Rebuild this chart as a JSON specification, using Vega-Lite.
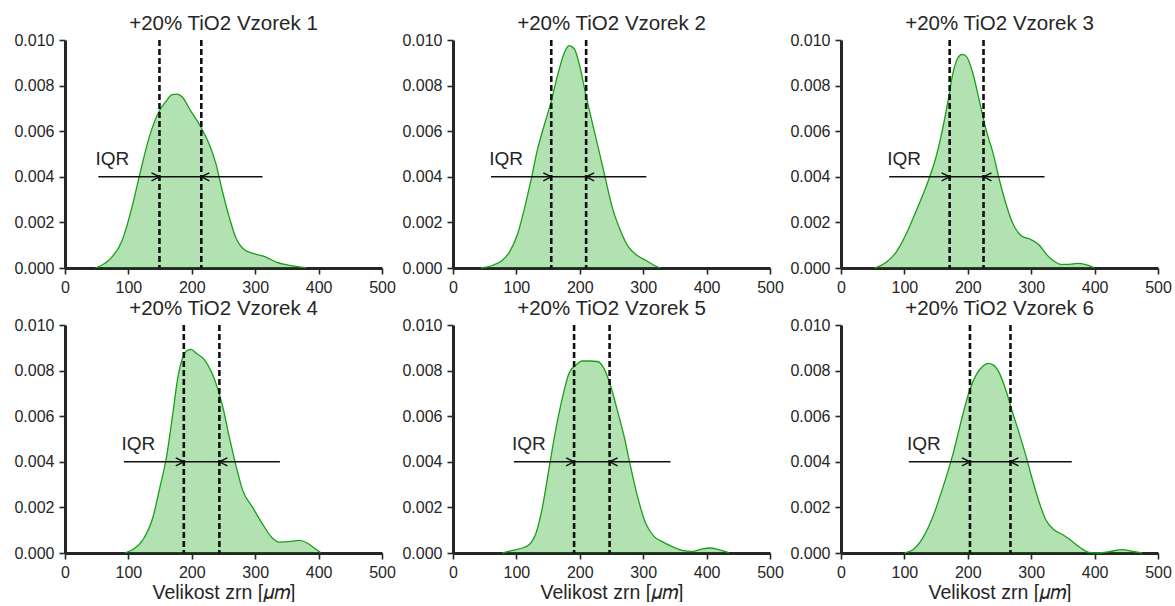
{
  "$schema": "https://vega.github.io/schema/vega-lite/v6.json",
  "padding": {"left": 13, "top": 13, "right": 5, "bottom": 0},
  "background": "white",
  "config": {
    "view": {"stroke": null},
    "axis": {"domainColor": "#262626", "domainWidth": 3, "tickColor": "#262626", "tickWidth": 1.6, "tickSize": 6, "labelFont": "Liberation Sans", "labelFontSize": 16, "labelColor": "#262626", "labelPadding": 5, "titleFont": "Liberation Sans", "titleFontSize": 19.5, "titleFontWeight": "normal", "titleColor": "#262626", "titlePadding": 3, "grid": false, "zindex": 1, "labelFlush": false},
    "title": {"font": "Liberation Sans", "fontSize": 20.5, "fontWeight": "normal", "color": "#262626", "offset": -2, "frame": "group"}
  },
  "datasets": {
    "kde": [
      {"s":1,"x":48,"y":0},{"s":1,"x":58,"y":0.00012},{"s":1,"x":69,"y":0.00034},{"s":1,"x":90,"y":0.0012},{"s":1,"x":106,"y":0.0027},{"s":1,"x":117,"y":0.004},{"s":1,"x":133,"y":0.00575},{"s":1,"x":148,"y":0.00685},{"s":1,"x":159,"y":0.0073},{"s":1,"x":169,"y":0.0076},{"s":1,"x":177,"y":0.00763},{"s":1,"x":185,"y":0.0075},{"s":1,"x":198,"y":0.0069},{"s":1,"x":214,"y":0.0062},{"s":1,"x":227,"y":0.00546},{"s":1,"x":238,"y":0.00458},{"s":1,"x":248,"y":0.0034},{"s":1,"x":259,"y":0.00224},{"s":1,"x":269,"y":0.00136},{"s":1,"x":283,"y":0.0008},{"s":1,"x":298,"y":0.00063},{"s":1,"x":317,"y":0.00048},{"s":1,"x":333,"y":0.00026},{"s":1,"x":354,"y":0.00012},{"s":1,"x":380,"y":0.00002},
      {"s":2,"x":44,"y":0},{"s":2,"x":63,"y":0.00012},{"s":2,"x":78,"y":0.00034},{"s":2,"x":89,"y":0.0007},{"s":2,"x":102,"y":0.0015},{"s":2,"x":112,"y":0.00253},{"s":2,"x":123,"y":0.00385},{"s":2,"x":133,"y":0.00517},{"s":2,"x":144,"y":0.00627},{"s":2,"x":154,"y":0.00722},{"s":2,"x":165,"y":0.00846},{"s":2,"x":175,"y":0.0094},{"s":2,"x":183,"y":0.00975},{"s":2,"x":191,"y":0.00963},{"s":2,"x":199,"y":0.00897},{"s":2,"x":209,"y":0.00766},{"s":2,"x":220,"y":0.00634},{"s":2,"x":230,"y":0.00517},{"s":2,"x":241,"y":0.00385},{"s":2,"x":251,"y":0.00268},{"s":2,"x":264,"y":0.00165},{"s":2,"x":277,"y":0.00092},{"s":2,"x":290,"y":0.00056},{"s":2,"x":304,"y":0.00034},{"s":2,"x":317,"y":0.00012},{"s":2,"x":327,"y":0},
      {"s":3,"x":53,"y":0},{"s":3,"x":72,"y":0.00026},{"s":3,"x":87,"y":0.0007},{"s":3,"x":103,"y":0.0015},{"s":3,"x":119,"y":0.00253},{"s":3,"x":135,"y":0.00363},{"s":3,"x":150,"y":0.00488},{"s":3,"x":161,"y":0.0062},{"s":3,"x":169,"y":0.00736},{"s":3,"x":177,"y":0.0086},{"s":3,"x":184,"y":0.0092},{"s":3,"x":191,"y":0.00937},{"s":3,"x":198,"y":0.00927},{"s":3,"x":208,"y":0.00854},{"s":3,"x":218,"y":0.00736},{"s":3,"x":229,"y":0.00605},{"s":3,"x":240,"y":0.00502},{"s":3,"x":250,"y":0.00385},{"s":3,"x":260,"y":0.00283},{"s":3,"x":271,"y":0.00195},{"s":3,"x":284,"y":0.00143},{"s":3,"x":300,"y":0.00124},{"s":3,"x":313,"y":0.001},{"s":3,"x":323,"y":0.00063},{"s":3,"x":334,"y":0.00034},{"s":3,"x":347,"y":0.00016},{"s":3,"x":360,"y":0.00016},{"s":3,"x":373,"y":0.0002},{"s":3,"x":386,"y":0.00015},{"s":3,"x":399,"y":0.00002},
      {"s":4,"x":94,"y":0},{"s":4,"x":107,"y":0.00015},{"s":4,"x":123,"y":0.00058},{"s":4,"x":139,"y":0.0016},{"s":4,"x":149,"y":0.0028},{"s":4,"x":160,"y":0.0042},{"s":4,"x":170,"y":0.0061},{"s":4,"x":178,"y":0.0077},{"s":4,"x":186,"y":0.0086},{"s":4,"x":194,"y":0.0089},{"s":4,"x":199,"y":0.00893},{"s":4,"x":207,"y":0.00876},{"s":4,"x":220,"y":0.00847},{"s":4,"x":230,"y":0.008},{"s":4,"x":238,"y":0.00745},{"s":4,"x":249,"y":0.0064},{"s":4,"x":259,"y":0.0051},{"s":4,"x":270,"y":0.0038},{"s":4,"x":280,"y":0.00277},{"s":4,"x":296,"y":0.002},{"s":4,"x":311,"y":0.0013},{"s":4,"x":327,"y":0.00066},{"s":4,"x":338,"y":0.00048},{"s":4,"x":353,"y":0.0005},{"s":4,"x":369,"y":0.00055},{"s":4,"x":382,"y":0.00044},{"s":4,"x":393,"y":0.00022},{"s":4,"x":403,"y":0.00002},
      {"s":5,"x":78,"y":0},{"s":5,"x":94,"y":0.00012},{"s":5,"x":110,"y":0.00022},{"s":5,"x":120,"y":0.00036},{"s":5,"x":131,"y":0.00088},{"s":5,"x":141,"y":0.002},{"s":5,"x":152,"y":0.0038},{"s":5,"x":162,"y":0.0054},{"s":5,"x":173,"y":0.00686},{"s":5,"x":183,"y":0.00788},{"s":5,"x":194,"y":0.00825},{"s":5,"x":204,"y":0.00842},{"s":5,"x":215,"y":0.00842},{"s":5,"x":228,"y":0.0084},{"s":5,"x":238,"y":0.0081},{"s":5,"x":249,"y":0.0073},{"s":5,"x":259,"y":0.00628},{"s":5,"x":270,"y":0.0051},{"s":5,"x":280,"y":0.0038},{"s":5,"x":291,"y":0.00248},{"s":5,"x":304,"y":0.0013},{"s":5,"x":317,"y":0.00073},{"s":5,"x":330,"y":0.0005},{"s":5,"x":345,"y":0.00029},{"s":5,"x":361,"y":0.00012},{"s":5,"x":377,"y":0.00007},{"s":5,"x":393,"y":0.00018},{"s":5,"x":406,"y":0.00022},{"s":5,"x":419,"y":0.00015},{"s":5,"x":435,"y":0.00002},
      {"s":6,"x":100,"y":0},{"s":6,"x":114,"y":0.00015},{"s":6,"x":129,"y":0.00066},{"s":6,"x":145,"y":0.0016},{"s":6,"x":161,"y":0.0029},{"s":6,"x":177,"y":0.00438},{"s":6,"x":190,"y":0.00584},{"s":6,"x":203,"y":0.00715},{"s":6,"x":213,"y":0.0078},{"s":6,"x":224,"y":0.0082},{"s":6,"x":232,"y":0.00832},{"s":6,"x":240,"y":0.00825},{"s":6,"x":250,"y":0.00788},{"s":6,"x":260,"y":0.00715},{"s":6,"x":271,"y":0.00613},{"s":6,"x":281,"y":0.00526},{"s":6,"x":292,"y":0.00423},{"s":6,"x":302,"y":0.00321},{"s":6,"x":313,"y":0.00219},{"s":6,"x":323,"y":0.00146},{"s":6,"x":336,"y":0.00102},{"s":6,"x":350,"y":0.0008},{"s":6,"x":363,"y":0.00055},{"s":6,"x":376,"y":0.00026},{"s":6,"x":391,"y":0.00003},{"s":6,"x":407,"y":0},{"s":6,"x":423,"y":0.00006},{"s":6,"x":444,"y":0.00015},{"s":6,"x":460,"y":0.00007},{"s":6,"x":475,"y":0}
    ],
    "q": [
      {"s":1,"lo":52.6,"hi":311.6,"ya":0.004,"tx":48,"ty":0.0045,"label":"IQR"},
      {"s":2,"lo":60,"hi":305,"ya":0.004,"tx":57,"ty":0.0045,"label":"IQR"},
      {"s":3,"lo":76,"hi":321,"ya":0.004,"tx":73,"ty":0.0045,"label":"IQR"},
      {"s":4,"lo":93,"hi":339,"ya":0.004,"tx":89,"ty":0.0045,"label":"IQR"},
      {"s":5,"lo":96,"hi":343,"ya":0.004,"tx":93,"ty":0.0045,"label":"IQR"},
      {"s":6,"lo":107,"hi":364,"ya":0.004,"tx":104,"ty":0.0045,"label":"IQR"}
    ],
    "quart": [
      {"s":1,"x":149,"ya":0.004,"dir":"right"},{"s":1,"x":215,"ya":0.004,"dir":"left"},
      {"s":2,"x":155,"ya":0.004,"dir":"right"},{"s":2,"x":210,"ya":0.004,"dir":"left"},
      {"s":3,"x":171.4,"ya":0.004,"dir":"right"},{"s":3,"x":224.8,"ya":0.004,"dir":"left"},
      {"s":4,"x":187.4,"ya":0.004,"dir":"right"},{"s":4,"x":243.5,"ya":0.004,"dir":"left"},
      {"s":5,"x":191,"ya":0.004,"dir":"right"},{"s":5,"x":247,"ya":0.004,"dir":"left"},
      {"s":6,"x":203.4,"ya":0.004,"dir":"right"},{"s":6,"x":267.3,"ya":0.004,"dir":"left"}
    ]
  },
  "columns": 3,
  "spacing": {"row": 57, "column": 71},
  "bounds": "flush",
  "concat": [
    {"width": 317, "height": 228, "title": "+20% TiO2 Vzorek 1",
     "layer": [
      {"data": {"name": "kde"}, "transform": [{"filter": "datum.s == 1"}],
       "mark": {"type": "area", "interpolate": "monotone", "color": "#00a000", "fillOpacity": 0.3, "line": {"color": "#1a9e1a", "strokeWidth": 1.3}},
       "encoding": {"x": {"field": "x", "type": "quantitative", "scale": {"domain": [0, 500], "nice": false}, "axis": {"values": [0,100,200,300,400,500], "title": null}},
                    "y": {"field": "y", "type": "quantitative", "scale": {"domain": [0, 0.01], "nice": false}, "axis": {"values": [0,0.002,0.004,0.006,0.008,0.01], "format": ".3f", "title": null}}}},
      {"data": {"name": "quart"}, "transform": [{"filter": "datum.s == 1"}],
       "mark": {"type": "rule", "color": "#111111", "strokeWidth": 2.6, "strokeDash": [6, 3]},
       "encoding": {"x": {"field": "x", "type": "quantitative"}}},
      {"data": {"name": "q"}, "transform": [{"filter": "datum.s == 1"}],
       "mark": {"type": "rule", "color": "#111111", "strokeWidth": 1.5},
       "encoding": {"x": {"field": "lo", "type": "quantitative"}, "x2": {"field": "hi"}, "y": {"field": "ya", "type": "quantitative"}}},
      {"data": {"name": "quart"}, "transform": [{"filter": "datum.s == 1"}],
       "mark": {"type": "point", "filled": false, "stroke": "#111111", "strokeWidth": 1.5, "size": 256, "opacity": 1},
       "encoding": {"x": {"field": "x", "type": "quantitative"}, "y": {"field": "ya", "type": "quantitative"},
                    "shape": {"field": "dir", "type": "nominal", "scale": {"domain": ["right", "left"], "range": ["M-1,-0.5L0,0L-1,0.5", "M1,-0.5L0,0L1,0.5"]}, "legend": null}}},
      {"data": {"name": "q"}, "transform": [{"filter": "datum.s == 1"}],
       "mark": {"type": "text", "align": "left", "baseline": "alphabetic", "font": "Liberation Sans", "fontSize": 19, "color": "#262626"},
       "encoding": {"x": {"field": "tx", "type": "quantitative"}, "y": {"field": "ty", "type": "quantitative"}, "text": {"field": "label"}}}
     ]},
    {"width": 317, "height": 228, "title": "+20% TiO2 Vzorek 2",
     "layer": [
      {"data": {"name": "kde"}, "transform": [{"filter": "datum.s == 2"}],
       "mark": {"type": "area", "interpolate": "monotone", "color": "#00a000", "fillOpacity": 0.3, "line": {"color": "#1a9e1a", "strokeWidth": 1.3}},
       "encoding": {"x": {"field": "x", "type": "quantitative", "scale": {"domain": [0, 500], "nice": false}, "axis": {"values": [0,100,200,300,400,500], "title": null}},
                    "y": {"field": "y", "type": "quantitative", "scale": {"domain": [0, 0.01], "nice": false}, "axis": {"values": [0,0.002,0.004,0.006,0.008,0.01], "format": ".3f", "title": null}}}},
      {"data": {"name": "quart"}, "transform": [{"filter": "datum.s == 2"}],
       "mark": {"type": "rule", "color": "#111111", "strokeWidth": 2.6, "strokeDash": [6, 3]},
       "encoding": {"x": {"field": "x", "type": "quantitative"}}},
      {"data": {"name": "q"}, "transform": [{"filter": "datum.s == 2"}],
       "mark": {"type": "rule", "color": "#111111", "strokeWidth": 1.5},
       "encoding": {"x": {"field": "lo", "type": "quantitative"}, "x2": {"field": "hi"}, "y": {"field": "ya", "type": "quantitative"}}},
      {"data": {"name": "quart"}, "transform": [{"filter": "datum.s == 2"}],
       "mark": {"type": "point", "filled": false, "stroke": "#111111", "strokeWidth": 1.5, "size": 256, "opacity": 1},
       "encoding": {"x": {"field": "x", "type": "quantitative"}, "y": {"field": "ya", "type": "quantitative"},
                    "shape": {"field": "dir", "type": "nominal", "scale": {"domain": ["right", "left"], "range": ["M-1,-0.5L0,0L-1,0.5", "M1,-0.5L0,0L1,0.5"]}, "legend": null}}},
      {"data": {"name": "q"}, "transform": [{"filter": "datum.s == 2"}],
       "mark": {"type": "text", "align": "left", "baseline": "alphabetic", "font": "Liberation Sans", "fontSize": 19, "color": "#262626"},
       "encoding": {"x": {"field": "tx", "type": "quantitative"}, "y": {"field": "ty", "type": "quantitative"}, "text": {"field": "label"}}}
     ]},
    {"width": 317, "height": 228, "title": "+20% TiO2 Vzorek 3",
     "layer": [
      {"data": {"name": "kde"}, "transform": [{"filter": "datum.s == 3"}],
       "mark": {"type": "area", "interpolate": "monotone", "color": "#00a000", "fillOpacity": 0.3, "line": {"color": "#1a9e1a", "strokeWidth": 1.3}},
       "encoding": {"x": {"field": "x", "type": "quantitative", "scale": {"domain": [0, 500], "nice": false}, "axis": {"values": [0,100,200,300,400,500], "title": null}},
                    "y": {"field": "y", "type": "quantitative", "scale": {"domain": [0, 0.01], "nice": false}, "axis": {"values": [0,0.002,0.004,0.006,0.008,0.01], "format": ".3f", "title": null}}}},
      {"data": {"name": "quart"}, "transform": [{"filter": "datum.s == 3"}],
       "mark": {"type": "rule", "color": "#111111", "strokeWidth": 2.6, "strokeDash": [6, 3]},
       "encoding": {"x": {"field": "x", "type": "quantitative"}}},
      {"data": {"name": "q"}, "transform": [{"filter": "datum.s == 3"}],
       "mark": {"type": "rule", "color": "#111111", "strokeWidth": 1.5},
       "encoding": {"x": {"field": "lo", "type": "quantitative"}, "x2": {"field": "hi"}, "y": {"field": "ya", "type": "quantitative"}}},
      {"data": {"name": "quart"}, "transform": [{"filter": "datum.s == 3"}],
       "mark": {"type": "point", "filled": false, "stroke": "#111111", "strokeWidth": 1.5, "size": 256, "opacity": 1},
       "encoding": {"x": {"field": "x", "type": "quantitative"}, "y": {"field": "ya", "type": "quantitative"},
                    "shape": {"field": "dir", "type": "nominal", "scale": {"domain": ["right", "left"], "range": ["M-1,-0.5L0,0L-1,0.5", "M1,-0.5L0,0L1,0.5"]}, "legend": null}}},
      {"data": {"name": "q"}, "transform": [{"filter": "datum.s == 3"}],
       "mark": {"type": "text", "align": "left", "baseline": "alphabetic", "font": "Liberation Sans", "fontSize": 19, "color": "#262626"},
       "encoding": {"x": {"field": "tx", "type": "quantitative"}, "y": {"field": "ty", "type": "quantitative"}, "text": {"field": "label"}}}
     ]},
    {"width": 317, "height": 228, "title": "+20% TiO2 Vzorek 4",
     "layer": [
      {"data": {"name": "kde"}, "transform": [{"filter": "datum.s == 4"}],
       "mark": {"type": "area", "interpolate": "monotone", "color": "#00a000", "fillOpacity": 0.3, "line": {"color": "#1a9e1a", "strokeWidth": 1.3}},
       "encoding": {"x": {"field": "x", "type": "quantitative", "scale": {"domain": [0, 500], "nice": false}, "axis": {"values": [0,100,200,300,400,500], "title": "Velikost zrn [𝜇𝑚]"}},
                    "y": {"field": "y", "type": "quantitative", "scale": {"domain": [0, 0.01], "nice": false}, "axis": {"values": [0,0.002,0.004,0.006,0.008,0.01], "format": ".3f", "title": null}}}},
      {"data": {"name": "quart"}, "transform": [{"filter": "datum.s == 4"}],
       "mark": {"type": "rule", "color": "#111111", "strokeWidth": 2.6, "strokeDash": [6, 3]},
       "encoding": {"x": {"field": "x", "type": "quantitative"}}},
      {"data": {"name": "q"}, "transform": [{"filter": "datum.s == 4"}],
       "mark": {"type": "rule", "color": "#111111", "strokeWidth": 1.5},
       "encoding": {"x": {"field": "lo", "type": "quantitative"}, "x2": {"field": "hi"}, "y": {"field": "ya", "type": "quantitative"}}},
      {"data": {"name": "quart"}, "transform": [{"filter": "datum.s == 4"}],
       "mark": {"type": "point", "filled": false, "stroke": "#111111", "strokeWidth": 1.5, "size": 256, "opacity": 1},
       "encoding": {"x": {"field": "x", "type": "quantitative"}, "y": {"field": "ya", "type": "quantitative"},
                    "shape": {"field": "dir", "type": "nominal", "scale": {"domain": ["right", "left"], "range": ["M-1,-0.5L0,0L-1,0.5", "M1,-0.5L0,0L1,0.5"]}, "legend": null}}},
      {"data": {"name": "q"}, "transform": [{"filter": "datum.s == 4"}],
       "mark": {"type": "text", "align": "left", "baseline": "alphabetic", "font": "Liberation Sans", "fontSize": 19, "color": "#262626"},
       "encoding": {"x": {"field": "tx", "type": "quantitative"}, "y": {"field": "ty", "type": "quantitative"}, "text": {"field": "label"}}}
     ]},
    {"width": 317, "height": 228, "title": "+20% TiO2 Vzorek 5",
     "layer": [
      {"data": {"name": "kde"}, "transform": [{"filter": "datum.s == 5"}],
       "mark": {"type": "area", "interpolate": "monotone", "color": "#00a000", "fillOpacity": 0.3, "line": {"color": "#1a9e1a", "strokeWidth": 1.3}},
       "encoding": {"x": {"field": "x", "type": "quantitative", "scale": {"domain": [0, 500], "nice": false}, "axis": {"values": [0,100,200,300,400,500], "title": "Velikost zrn [𝜇𝑚]"}},
                    "y": {"field": "y", "type": "quantitative", "scale": {"domain": [0, 0.01], "nice": false}, "axis": {"values": [0,0.002,0.004,0.006,0.008,0.01], "format": ".3f", "title": null}}}},
      {"data": {"name": "quart"}, "transform": [{"filter": "datum.s == 5"}],
       "mark": {"type": "rule", "color": "#111111", "strokeWidth": 2.6, "strokeDash": [6, 3]},
       "encoding": {"x": {"field": "x", "type": "quantitative"}}},
      {"data": {"name": "q"}, "transform": [{"filter": "datum.s == 5"}],
       "mark": {"type": "rule", "color": "#111111", "strokeWidth": 1.5},
       "encoding": {"x": {"field": "lo", "type": "quantitative"}, "x2": {"field": "hi"}, "y": {"field": "ya", "type": "quantitative"}}},
      {"data": {"name": "quart"}, "transform": [{"filter": "datum.s == 5"}],
       "mark": {"type": "point", "filled": false, "stroke": "#111111", "strokeWidth": 1.5, "size": 256, "opacity": 1},
       "encoding": {"x": {"field": "x", "type": "quantitative"}, "y": {"field": "ya", "type": "quantitative"},
                    "shape": {"field": "dir", "type": "nominal", "scale": {"domain": ["right", "left"], "range": ["M-1,-0.5L0,0L-1,0.5", "M1,-0.5L0,0L1,0.5"]}, "legend": null}}},
      {"data": {"name": "q"}, "transform": [{"filter": "datum.s == 5"}],
       "mark": {"type": "text", "align": "left", "baseline": "alphabetic", "font": "Liberation Sans", "fontSize": 19, "color": "#262626"},
       "encoding": {"x": {"field": "tx", "type": "quantitative"}, "y": {"field": "ty", "type": "quantitative"}, "text": {"field": "label"}}}
     ]},
    {"width": 317, "height": 228, "title": "+20% TiO2 Vzorek 6",
     "layer": [
      {"data": {"name": "kde"}, "transform": [{"filter": "datum.s == 6"}],
       "mark": {"type": "area", "interpolate": "monotone", "color": "#00a000", "fillOpacity": 0.3, "line": {"color": "#1a9e1a", "strokeWidth": 1.3}},
       "encoding": {"x": {"field": "x", "type": "quantitative", "scale": {"domain": [0, 500], "nice": false}, "axis": {"values": [0,100,200,300,400,500], "title": "Velikost zrn [𝜇𝑚]"}},
                    "y": {"field": "y", "type": "quantitative", "scale": {"domain": [0, 0.01], "nice": false}, "axis": {"values": [0,0.002,0.004,0.006,0.008,0.01], "format": ".3f", "title": null}}}},
      {"data": {"name": "quart"}, "transform": [{"filter": "datum.s == 6"}],
       "mark": {"type": "rule", "color": "#111111", "strokeWidth": 2.6, "strokeDash": [6, 3]},
       "encoding": {"x": {"field": "x", "type": "quantitative"}}},
      {"data": {"name": "q"}, "transform": [{"filter": "datum.s == 6"}],
       "mark": {"type": "rule", "color": "#111111", "strokeWidth": 1.5},
       "encoding": {"x": {"field": "lo", "type": "quantitative"}, "x2": {"field": "hi"}, "y": {"field": "ya", "type": "quantitative"}}},
      {"data": {"name": "quart"}, "transform": [{"filter": "datum.s == 6"}],
       "mark": {"type": "point", "filled": false, "stroke": "#111111", "strokeWidth": 1.5, "size": 256, "opacity": 1},
       "encoding": {"x": {"field": "x", "type": "quantitative"}, "y": {"field": "ya", "type": "quantitative"},
                    "shape": {"field": "dir", "type": "nominal", "scale": {"domain": ["right", "left"], "range": ["M-1,-0.5L0,0L-1,0.5", "M1,-0.5L0,0L1,0.5"]}, "legend": null}}},
      {"data": {"name": "q"}, "transform": [{"filter": "datum.s == 6"}],
       "mark": {"type": "text", "align": "left", "baseline": "alphabetic", "font": "Liberation Sans", "fontSize": 19, "color": "#262626"},
       "encoding": {"x": {"field": "tx", "type": "quantitative"}, "y": {"field": "ty", "type": "quantitative"}, "text": {"field": "label"}}}
     ]}
  ]
}
